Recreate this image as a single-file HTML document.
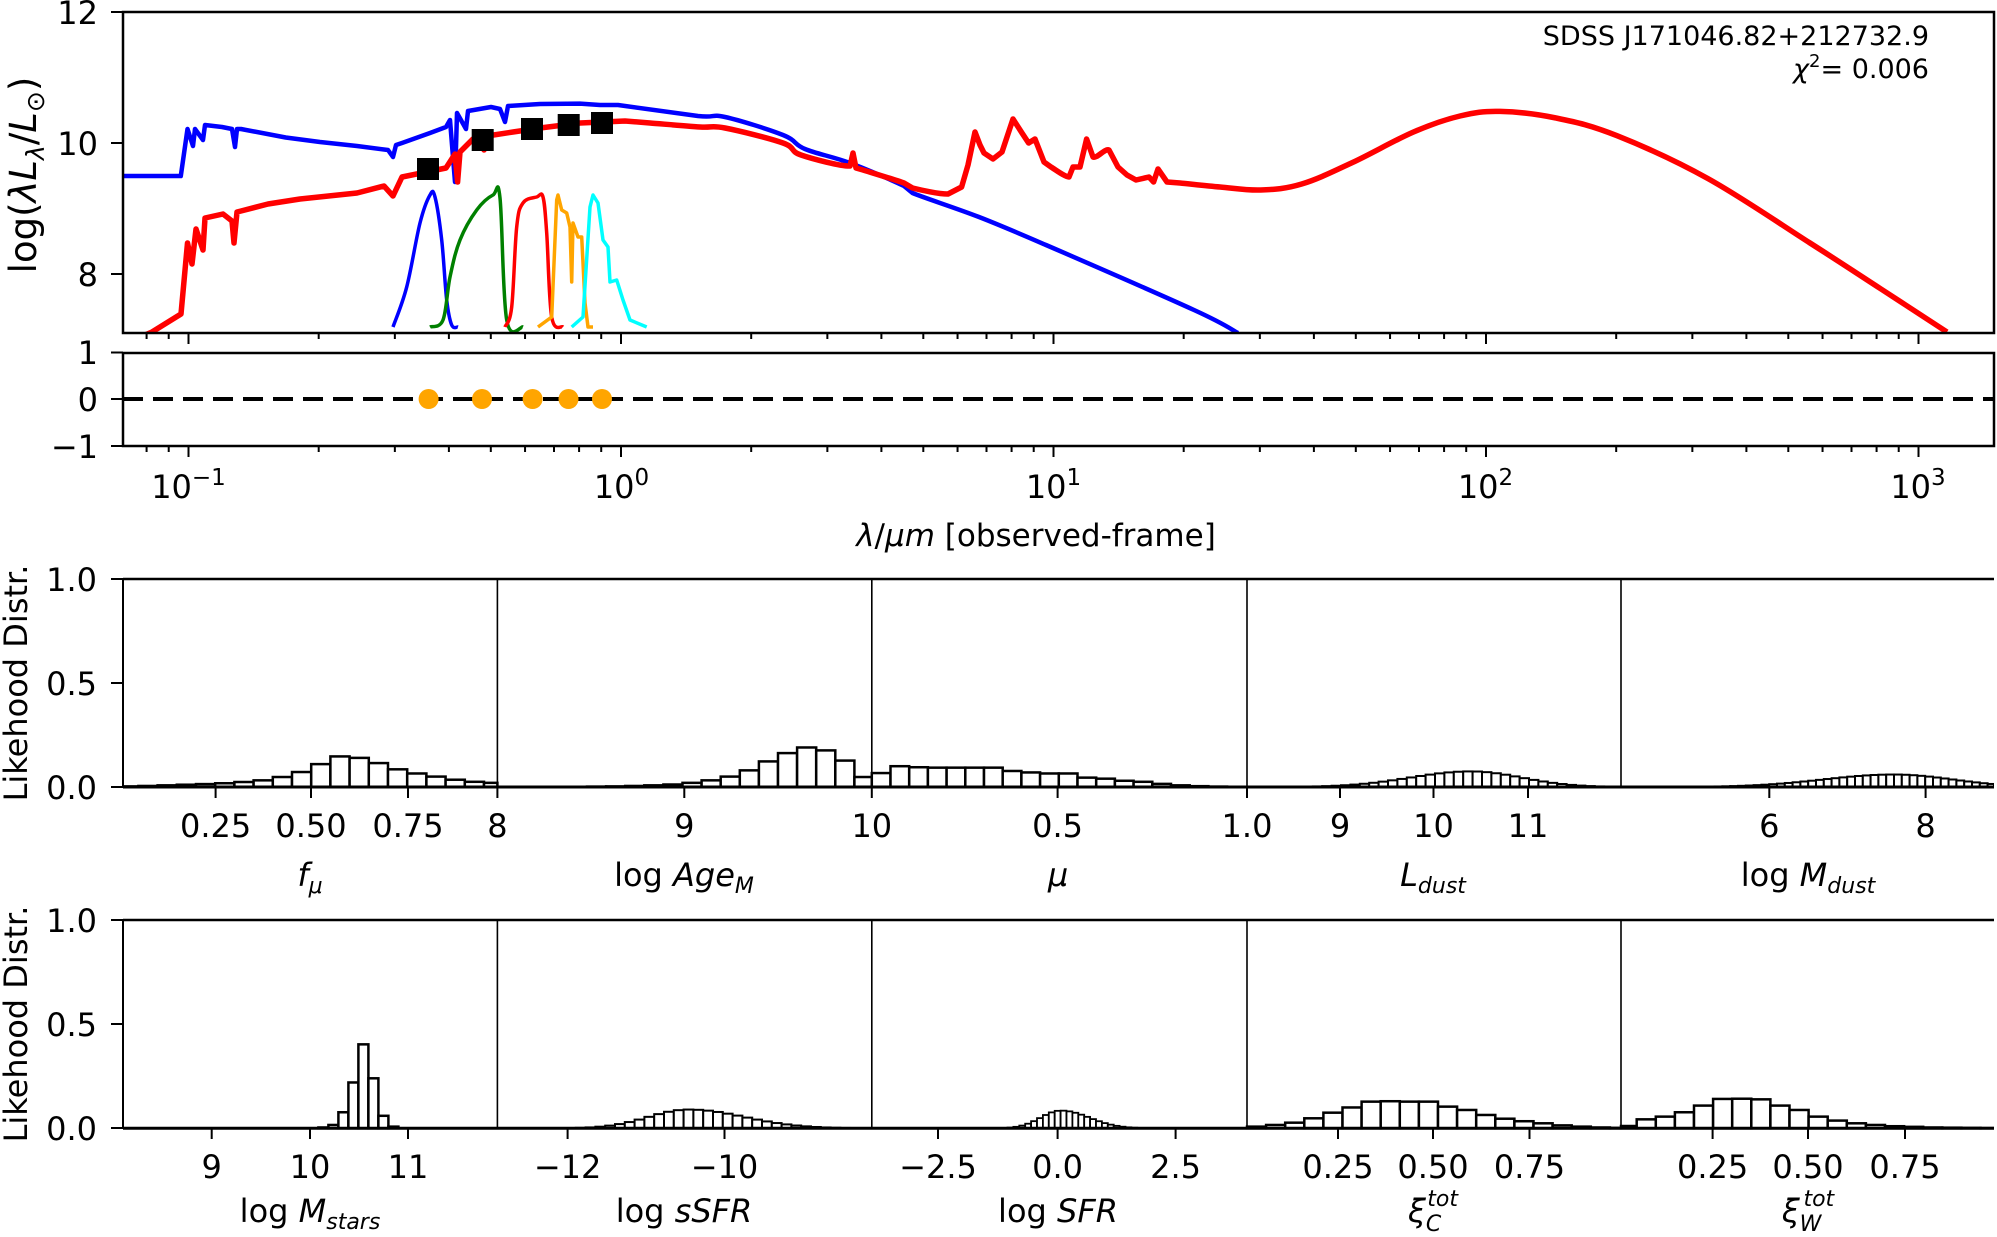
<!DOCTYPE html>
<html><head><meta charset="utf-8"><style>
html,body{margin:0;padding:0;background:#fff;}
svg{display:block;font-family:"DejaVu Sans","Liberation Sans",sans-serif;}
</style></head><body>
<svg id="s" width="1997" height="1237" viewBox="0 0 1997 1237" xmlns="http://www.w3.org/2000/svg">
<defs><clipPath id="cm"><rect x="123" y="12" width="1871" height="321"/></clipPath>
<clipPath id="ch"><rect x="123" y="560" width="1871" height="600"/></clipPath></defs>
<g clip-path="url(#cm)" fill="none" stroke-linejoin="round">
<polyline class="sm" stroke="#0000ff" stroke-width="4.5" points="120,176 180.8,176 187.5,129 193,146 195,129 203,140 205,125 222,127 232,129 235,147 237,129 241,129 285.7,137.5 320,142 357,146 388,150 393,157 396,145 402,143 430,133 446,127 450,120 455,182 457,113 466,129 468,111 491,107 500,109 505,122 508,106 540,104 580,103.6 600,105 618,105 698,116 725,117 783,135 805,149 850,163 904,186 912.5,193 979,217 1046,245 1194,310 1238,333"/>
<polyline class="sm" stroke="#ff0000" stroke-width="5.5" points="110,350 152,332 181,314 187.5,243 192,264 196,229 203,250 205,218 223,214 232,221 234,243 237,212 241,211 268,204 300,199 357,193 384,186 393,196 402,177 446,168 455,154 457.6,182 460,152 473,139 480,140 484,150 487,136 513,132 540,128 580,123 625,121 650,123 700,127 725,128 783,143 801,155 850,166 853,153 856,168 863,170 904,183 912.5,188 948,194 961.6,187 968,165 975,132 980,145 984,153 993,159 1002,152 1013,119 1022,133 1028.6,143 1035,139 1044,162 1051,167 1069,177 1073,167 1080,167 1086.6,139 1093,157 1109,150 1118,167 1127,175 1136,180 1149,177 1153.6,182 1158,169 1167,182 1180,183 1220,187 1260.7,190 1301.7,184 1352.5,162.5 1413.5,132 1460,116 1500,111.4 1556,118 1617,135.7 1708,178.6 1810,243 1881,289 1947,332"/>
<g stroke-width="3.5">
<polyline class="sm" stroke="#0000ff" points="393,327 406.7,287 420,223 430,195 435,197 441.7,240 446.7,300 451.7,325 458,327"/>
<polyline class="sm" stroke="#008000" points="430,327 443,320 450,277 460,240 476.7,210 493,195 500,198 506.7,320 523,327"/>
<polyline class="sm" stroke="#ff0000" points="505,327 511.7,307 516.7,227 523,203 536.7,197 543,197 546.7,233 551.7,317 563,327"/>
<polyline stroke="#ffa500" points="538,327 551.7,317 556.7,200 558,195 561.7,210 566.7,213 570,227 571.7,282 573,223 578,237 581.7,237 585,303 588,327 593,327"/>
<polyline stroke="#00ffff" points="571.7,327 583,317 590,207 593,195 598,203 603,240 608,247 610,282 616.7,280 623,300 630,320 646.7,327"/>
</g>
<g fill="#000"><rect x="417" y="158" width="22" height="22"/><rect x="471.7" y="129" width="22" height="22"/><rect x="521" y="118" width="22" height="22"/><rect x="557.7" y="114" width="22" height="22"/><rect x="591" y="112" width="22" height="22"/></g>
</g>
<rect x="123" y="12" width="1871" height="321" fill="none" stroke="#000" stroke-width="2.5"/>
<rect x="123" y="353" width="1871" height="93" fill="none" stroke="#000" stroke-width="2.5"/>
<line x1="123" y1="399" x2="1994" y2="399" stroke="#000" stroke-width="4" stroke-dasharray="20,10"/>
<g fill="#ffa500"><circle cx="428.6" cy="399" r="10"/><circle cx="482" cy="399" r="10"/><circle cx="532.6" cy="399" r="10"/><circle cx="568.5" cy="399" r="10"/><circle cx="602" cy="399" r="10"/></g>
<g id="ticks" stroke="#000" stroke-width="2"></g>
<g font-size="32" fill="#000" text-anchor="end">
<text x="98" y="24">12</text><text x="98" y="155">10</text><text x="98" y="286">8</text>
<text x="98" y="364">1</text><text x="98" y="411">0</text><text x="98" y="458">−1</text>
</g>
<g font-size="32" fill="#000" text-anchor="middle">
<text x="188.5" y="498">10<tspan font-size="23" dy="-13">−1</tspan></text>
<text x="621.5" y="498">10<tspan font-size="23" dy="-13">0</tspan></text>
<text x="1053.5" y="498">10<tspan font-size="23" dy="-13">1</tspan></text>
<text x="1485.5" y="498">10<tspan font-size="23" dy="-13">2</tspan></text>
<text x="1918" y="498">10<tspan font-size="23" dy="-13">3</tspan></text>
<text x="1036" y="546" font-size="31"><tspan font-style="italic">λ</tspan>/<tspan font-style="italic">μm</tspan> [observed-frame]</text>
</g>
<text transform="translate(36,175) rotate(-90)" font-size="37" text-anchor="middle">log(<tspan font-style="italic">λL</tspan><tspan font-style="italic" font-size="25" dy="8">λ</tspan><tspan dy="-8">/</tspan><tspan font-style="italic">L</tspan><tspan font-size="25" dy="8">⊙</tspan><tspan dy="-8">)</tspan></text>
<g font-size="27" text-anchor="end"><text x="1929" y="45">SDSS J171046.82+212732.9</text><text x="1929" y="78"><tspan font-style="italic">χ</tspan><tspan font-size="18" dy="-11">2</tspan><tspan dy="11">= 0.006</tspan></text></g>
<g id="hist" clip-path="url(#ch)"></g>
<g stroke="#000" fill="none">
<line x1="123" y1="579" x2="1994" y2="579" stroke-width="2.5"/>
<line x1="123" y1="920" x2="1994" y2="920" stroke-width="2.5"/>
<line x1="123" y1="579" x2="123" y2="787" stroke-width="2"/>
<line x1="123" y1="920" x2="123" y2="1128" stroke-width="2"/>
<line x1="497.4" y1="579" x2="497.4" y2="787" stroke-width="1.6"/><line x1="871.8" y1="579" x2="871.8" y2="787" stroke-width="1.6"/><line x1="1247" y1="579" x2="1247" y2="787" stroke-width="1.6"/><line x1="1621" y1="579" x2="1621" y2="787" stroke-width="1.6"/>
<line x1="497.4" y1="920" x2="497.4" y2="1128" stroke-width="1.6"/><line x1="871.8" y1="920" x2="871.8" y2="1128" stroke-width="1.6"/><line x1="1247" y1="920" x2="1247" y2="1128" stroke-width="1.6"/><line x1="1621" y1="920" x2="1621" y2="1128" stroke-width="1.6"/>
<line x1="123" y1="787" x2="1994" y2="787" stroke-width="3"/>
<line x1="123" y1="1128.3" x2="1994" y2="1128.3" stroke-width="3"/>
</g>
<g font-size="32" text-anchor="end">
<text x="97" y="591">1.0</text><text x="97" y="695">0.5</text><text x="97" y="799">0.0</text>
<text x="97" y="932">1.0</text><text x="97" y="1036">0.5</text><text x="97" y="1140">0.0</text>
</g>
<text transform="translate(27,683) rotate(-90)" font-size="32" text-anchor="middle">Likehood Distr.</text>
<text transform="translate(27,1024) rotate(-90)" font-size="32" text-anchor="middle">Likehood Distr.</text>
<g font-size="32" text-anchor="middle">
<text x="215.6" y="837">0.25</text><text x="311" y="837">0.50</text><text x="408" y="837">0.75</text><text x="497.4" y="837">8</text>
<text x="684.3" y="837">9</text><text x="871.8" y="837">10</text><text x="1057.6" y="837">0.5</text><text x="1247" y="837">1.0</text>
<text x="1340" y="837">9</text><text x="1433.5" y="837">10</text><text x="1528" y="837">11</text>
<text x="1769.3" y="837">6</text><text x="1925.6" y="837">8</text>
<text x="211.7" y="1178">9</text><text x="310" y="1178">10</text><text x="408" y="1178">11</text>
<text x="567.6" y="1178">−12</text><text x="724.5" y="1178">−10</text>
<text x="938" y="1178">−2.5</text><text x="1057.6" y="1178">0.0</text><text x="1175.6" y="1178">2.5</text>
<text x="1338" y="1178">0.25</text><text x="1433" y="1178">0.50</text><text x="1529.5" y="1178">0.75</text>
<text x="1712.6" y="1178">0.25</text><text x="1808" y="1178">0.50</text><text x="1905" y="1178">0.75</text>
<text x="310" y="886" font-style="italic">f<tspan font-size="22" dy="7">μ</tspan></text>
<text x="684" y="886">log <tspan font-style="italic">Age</tspan><tspan font-style="italic" font-size="22" dy="7">M</tspan></text>
<text x="1058" y="886" font-style="italic">μ</text>
<text x="1433" y="886" font-style="italic">L<tspan font-size="22" dy="7">dust</tspan></text>
<text x="1808" y="886">log <tspan font-style="italic">M</tspan><tspan font-style="italic" font-size="22" dy="7">dust</tspan></text>
<text x="310" y="1222">log <tspan font-style="italic">M</tspan><tspan font-style="italic" font-size="22" dy="7">stars</tspan></text>
<text x="684" y="1222">log <tspan font-style="italic">sSFR</tspan></text>
<text x="1058" y="1222">log <tspan font-style="italic">SFR</tspan></text>
<text x="1433" y="1222" font-style="italic">ξ<tspan font-size="22" dy="9">C</tspan><tspan font-size="22" dx="-14" dy="-25">tot</tspan></text>
<text x="1808" y="1222" font-style="italic">ξ<tspan font-size="22" dy="9">W</tspan><tspan font-size="22" dx="-18" dy="-25">tot</tspan></text>
</g>
</svg>
<script>
(function(){
var NS="http://www.w3.org/2000/svg";
function el(p,t,a){var e=document.createElementNS(NS,t);for(var k in a)e.setAttribute(k,a[k]);p.appendChild(e);return e;}
Array.prototype.forEach.call(document.querySelectorAll('polyline.sm'),function(pl){
var pts=pl.getAttribute('points').trim().split(/\s+/).map(function(s){return s.split(',').map(Number);});
var filt=pl.getAttribute('stroke-width')==null;
var d='M'+pts[0][0]+','+pts[0][1];
for(var i=0;i<pts.length-1;i++){var p0=pts[Math.max(0,i-1)],p1=pts[i],p2=pts[i+1],p3=pts[Math.min(pts.length-1,i+2)];
var t=0.35;var c1=[p1[0]+(p2[0]-p0[0])*t/2,p1[1]+(p2[1]-p0[1])*t/2],c2=[p2[0]-(p3[0]-p1[0])*t/2,p2[1]-(p3[1]-p1[1])*t/2];
if(!filt&&(p2[0]-p1[0]<15||p1[0]<640)){d+=' L'+p2[0]+','+p2[1];}else d+=' C'+c1[0]+','+c1[1]+' '+c2[0]+','+c2[1]+' '+p2[0]+','+p2[1];}
var p=el(pl.parentNode,'path',{d:d,stroke:pl.getAttribute('stroke'),'stroke-width':pl.getAttribute('stroke-width')||'3.5',fill:'none','stroke-linejoin':'round'});
pl.parentNode.insertBefore(p,pl);pl.parentNode.removeChild(pl);});
var tk=document.getElementById('ticks');
function X(l){return 188.5+(Math.log10(l)+1)*432.5;}
for(var d=-2;d<=3;d++){for(var m=1;m<10;m++){var l=m*Math.pow(10,d);var x=X(l);if(x<123||x>1994)continue;var L=m==1?11:6;
el(tk,'line',{x1:x,y1:333,x2:x,y2:333+L});el(tk,'line',{x1:x,y1:446,x2:x,y2:446+L});}}
[12,143,274,352.5,399,446].forEach(function(y){el(tk,'line',{x1:123,y1:y,x2:111,y2:y});});
[579,683,787,920,1024,1128].forEach(function(y){el(tk,'line',{x1:123,y1:y,x2:111,y2:y});});
[215.6,311,408,497.4,684.3,871.8,1057.6,1247,1340,1433.5,1528,1769.3,1925.6].forEach(function(x){el(tk,'line',{x1:x,y1:787,x2:x,y2:798});});
[211.7,310,408,567.6,724.5,938,1057.6,1175.6,1338,1433,1529.5,1712.6,1808,1905].forEach(function(x){el(tk,'line',{x1:x,y1:1128,x2:x,y2:1139});});
var h=document.getElementById('hist');
function bars(lo,hi,e0,w,hs,z,sc,sw){for(var i=0;i<hs.length;i++){var a=Math.max(lo,e0+i*w),b=Math.min(hi,e0+(i+1)*w);if(b<=a||hs[i]<=0)continue;var hh=hs[i]*sc;
el(h,'rect',{x:a,y:z-hh,width:b-a,height:hh,fill:'#fff',stroke:'#000','stroke-width':sw||2.5});}}
function gauss(lo,hi,w,mu,sl,sr,pk,z,sc,sw){var hs=[],n=Math.ceil((hi-lo)/w);for(var i=0;i<n;i++){var c=lo+(i+0.5)*w,s=c<mu?sl:sr;hs.push(pk*Math.exp(-0.5*Math.pow((c-mu)/s,2)));}bars(lo,hi,lo,w,hs,z,sc,sw);}
var Z1=787,S1=208,Z2=1128.3,S2=208.3;
bars(123,497.4,292-9*19.2,19.2,[0.003,0.005,0.008,0.011,0.014,0.018,0.024,0.032,0.048,0.072,0.11,0.147,0.14,0.115,0.085,0.065,0.05,0.035,0.025,0.02],Z1,S1);
bars(497.4,871.8,739.8-12*19.1,19.1,[0,0,0,0.001,0.002,0.003,0.005,0.008,0.012,0.02,0.032,0.05,0.08,0.123,0.163,0.19,0.176,0.127,0.048],Z1,S1);
bars(871.8,1247,871.8,18.7,[0.067,0.1,0.095,0.093,0.093,0.093,0.093,0.077,0.07,0.065,0.065,0.045,0.04,0.03,0.025,0.015,0.008,0.004,0.002,0.001],Z1,S1);
gauss(1247,1621,9.4,1471,60,50,0.075,Z1,S1,2);
gauss(1621,1994,7.8,1894,70,58,0.06,Z1,S1,2);
bars(123,497.4,318.4,10,[0.004,0.016,0.077,0.22,0.403,0.24,0.06,0.008],Z2,S2,2.5);
gauss(497.4,871.8,9.8,689,40,55,0.09,Z2,S2,2);
gauss(871.8,1247,5.9,1061,20,28,0.085,Z2,S2,1.8);
bars(1247,1621,1247,19.1,[0.008,0.016,0.027,0.048,0.075,0.1,0.128,0.13,0.128,0.128,0.104,0.088,0.064,0.046,0.034,0.024,0.014,0.008,0.004,0.002],Z2,S2);
bars(1621,1994,1636.7-19.1,19.1,[0.011,0.043,0.056,0.077,0.109,0.141,0.142,0.139,0.109,0.088,0.056,0.037,0.024,0.016,0.01,0.007,0.004,0.003,0.002,0.001],Z2,S2);
})();
</script>
</body></html>
